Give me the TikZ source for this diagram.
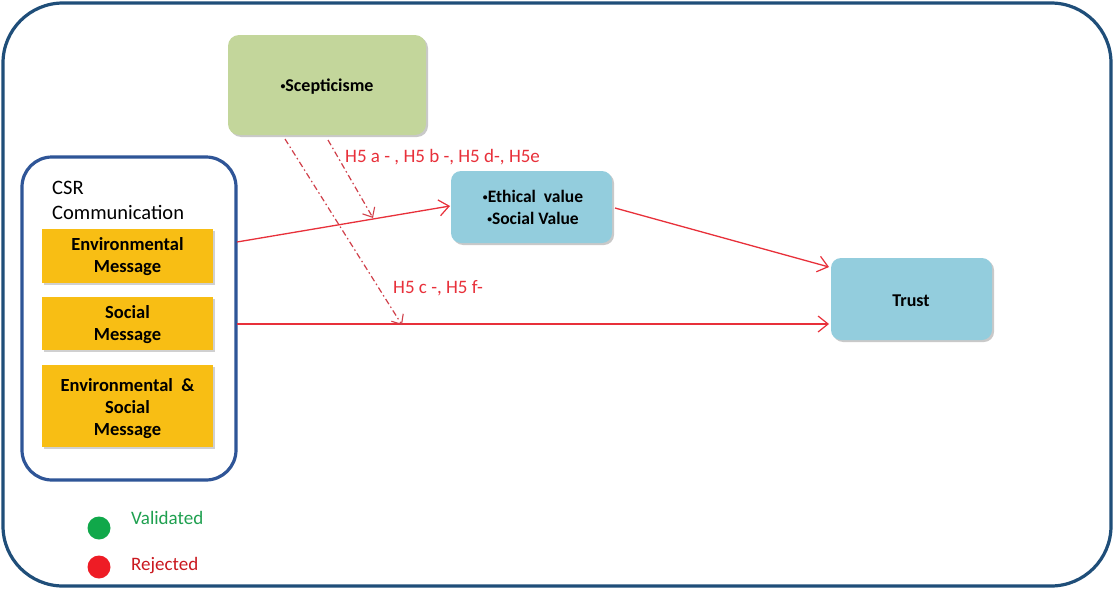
\documentclass[tikz,border=0pt]{standalone}
\usepackage{fontspec}
\setmainfont{Carlito}
\usetikzlibrary{arrows.meta,shadows}
\definecolor{frameblue}{HTML}{1F4E79}
\definecolor{csrblue}{HTML}{2F5597}
\definecolor{sgreen}{HTML}{C3D69B}
\definecolor{morange}{HTML}{F8BE14}
\definecolor{vblue}{HTML}{93CDDD}
\definecolor{arrred}{HTML}{E8303A}
\definecolor{dashred}{HTML}{D0404A}
\definecolor{valgreen}{HTML}{1FA050}
\definecolor{dotgreen}{HTML}{10A84A}
\definecolor{dotred}{HTML}{EE1C25}
\newcommand{\mybul}{\raisebox{0.3ex}{\scalebox{0.55}{•}}}
\begin{document}
\begin{tikzpicture}[x=1pt,y=-1pt,
  shbox/.style={rounded corners=11pt, draw=none, drop shadow={shadow xshift=2pt,shadow yshift=-2pt,opacity=0.35,fill=black!60}},
  msgbox/.style={fill=morange, draw=none, drop shadow={shadow xshift=2pt,shadow yshift=-2pt,opacity=0.3,fill=black!60}},
  boldtxt/.style={font=\fontsize{18.5}{22}\selectfont\bfseries, align=center},
  link/.style={draw=arrred, line width=1.3pt, -{Straight Barb[length=10pt,width=16pt,line width=1.2pt]}},
  dlink/.style={draw=dashred, line width=1.2pt, dash pattern=on 6pt off 3pt on 1.5pt off 3pt, -{Straight Barb[length=8pt,width=14pt,line width=1.1pt]}},
  lbl/.style={text=arrred, font=\fontsize{19}{22}\selectfont, anchor=west, inner sep=0pt}
]
\useasboundingbox (0,0) rectangle (1114,589);
\fill[white] (0,0) rectangle (1114,589);
% outer frame
\draw[frameblue, line width=3.2pt, rounded corners=60pt] (3,3) rectangle (1111,586);

% scepticism box
\path[shbox, fill=sgreen] (228,35) rectangle (426,135);
\node[boldtxt, font=\fontsize{18}{22}\selectfont\bfseries] (scep) at (327,87) {\mybul Scepticisme};
\coordinate (s1) at (285,139);
\coordinate (s2) at (328,140);

% CSR box
\draw[csrblue, line width=3.2pt, rounded corners=30pt, fill=white] (22,157) rectangle (236,480);
\node[anchor=west, font=\fontsize{20.5}{24}\selectfont, inner sep=0pt] (csr1) at (52,188) {CSR};
\node[anchor=west, font=\fontsize{20.5}{24}\selectfont, inner sep=0pt] (csr2) at (52,212) {Communication};
\path[msgbox] (42,229) rectangle (213,283);
\node[boldtxt] (env) at (127.5,257) {Environmental\\Message};
\path[msgbox] (42,297) rectangle (213,350);
\node[boldtxt] (soc) at (127.5,324.5) {Social\\Message};
\path[msgbox] (42,365) rectangle (213,447);
\node[boldtxt] (envsoc) at (127.5,408.5) {Environmental \ \&\\Social\\Message};
\coordinate (c1) at (237,242);
\coordinate (c2) at (237,324);

% value box
\path[shbox, rounded corners=10pt, fill=vblue] (451,171) rectangle (612,243);
\node[boldtxt, font=\fontsize{17.5}{22}\selectfont\bfseries] (val) at (533,207.5) {\mybul Ethical\ \ value\\\mybul Social Value};
\coordinate (v1) at (450,206);
\coordinate (v2) at (615,208);

% trust box
\path[shbox, rounded corners=10pt, fill=vblue] (831,258) rectangle (992,340);
\node[boldtxt, font=\fontsize{18}{22}\selectfont\bfseries] (trust) at (911,300.5) {Trust};
\coordinate (t1) at (829,267);
\coordinate (t2) at (829,324);

% arrows
\draw[link] (c1) -- (v1);
\draw[link] (c2) -- (t2);
\draw[link] (v2) -- (t1);
\coordinate (m1) at (373,218);
\coordinate (m2) at (402,325);
\draw[dlink] (s2) -- (m1);
\draw[dlink] (s1) -- (m2);

% labels
\node[lbl] (l1) at (345,157) {H5 a - , H5 b -, H5 d-, H5e};
\node[lbl] (l2) at (393,288) {H5 c -, H5 f-};

% legend
\fill[dotgreen] (99,528) circle (11.5pt);
\node[anchor=west, text=valgreen, font=\fontsize{19}{22}\selectfont, inner sep=0pt] (vl) at (131,518) {Validated};
\fill[dotred] (99,567) circle (11.5pt);
\node[anchor=west, text=dotred!85!black, font=\fontsize{19}{22}\selectfont, inner sep=0pt] (rl) at (131,566) {Rejected};
\end{tikzpicture}
\end{document}
